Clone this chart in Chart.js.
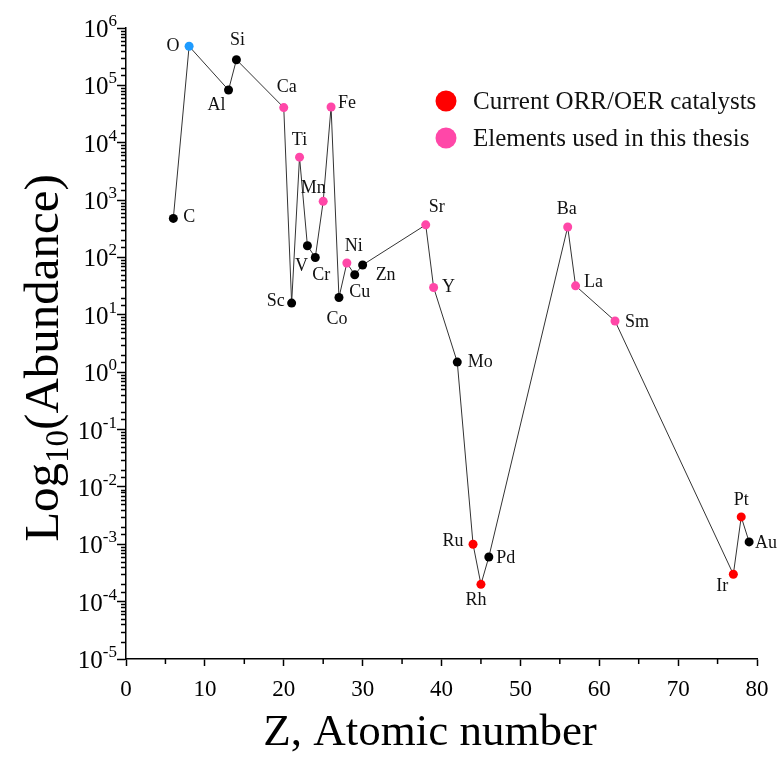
<!DOCTYPE html>
<html>
<head>
<meta charset="utf-8">
<script src="https://cdn.jsdelivr.net/npm/chart.js@4.4.1/dist/chart.umd.min.js"></script>
<style>
  html, body { margin: 0; padding: 0; background: #fff; }
  #wrap { width: 778px; height: 760px; position: relative; }
</style>
</head>
<body>
<div id="wrap"><canvas id="chart"></canvas></div>
<script>
"use strict";

// crustal abundance of selected elements
const symbols = ["C", "O", "Al", "Si", "Ca", "Sc", "Ti", "V", "Cr", "Mn", "Fe", "Co", "Ni", "Cu", "Zn",
  "Sr", "Y", "Mo", "Ru", "Rh", "Pd", "Ba", "La", "Sm", "Ir", "Pt", "Au"];
const atomicNumbers = [6, 8, 13, 14, 20, 21, 22, 23, 24, 25, 26, 27, 28, 29, 30,
  38, 39, 42, 44, 45, 46, 56, 57, 62, 77, 78, 79];
const abundance = [480, 4.8e5, 8.3e4, 2.8e5, 4.1e4, 16, 5.6e3, 160, 100, 950, 4.2e4, 20, 80, 50, 74,
  370, 30, 1.5, 1e-3, 2e-4, 6e-4, 340, 32, 7.8, 3e-4, 3e-3, 1.1e-3];
const group = ["other", "oxygen", "other", "other", "thesis", "other", "thesis", "other", "other", "thesis",
  "thesis", "other", "thesis", "other", "other", "thesis", "thesis", "other", "catalyst", "catalyst",
  "other", "thesis", "thesis", "thesis", "catalyst", "catalyst", "other"];
const legendLabels = ["Current ORR/OER catalysts", "Elements used in this thesis"];
const legendGroups = ["catalyst", "thesis"];
const xTicks = [0, 10, 20, 30, 40, 50, 60, 70, 80];
const yExponents = [6, 5, 4, 3, 2, 1, 0, -1, -2, -3, -4, -5];

const COLORS = { other: "#000000", oxygen: "#1e9bff", thesis: "#ff47a8", catalyst: "#ff0000" };
const SERIF = "'Liberation Serif', 'Times New Roman', serif";

// where each element's label sits relative to its dot (px)
const LABEL_OFFSET = {
  C: [16, -1], O: [-16, 0], Al: [-12, 15], Si: [1, -19], Ca: [3, -20], Sc: [-16, -2],
  Ti: [0, -17], V: [-6, 21], Cr: [6, 18], Mn: [-10, -13], Fe: [16, -4], Co: [-2, 22],
  Ni: [7, -17], Cu: [5, 18], Zn: [23, 10], Sr: [11, -18], Y: [15, 0], Mo: [23, 0],
  Ru: [-20, -3], Rh: [-5, 16], Pd: [17, 1], Ba: [-1, -18], La: [18, -4], Sm: [22, 1],
  Ir: [-11, 12], Pt: [0, -17], Au: [17, 1],
};

const isPow10 = (v) => Math.abs(Math.log10(v) - Math.round(Math.log10(v))) < 1e-9;

const decorations = {
  id: "decorations",
  afterDraw(chart) {
    const { ctx, chartArea: area, scales: { x, y } } = chart;
    ctx.save();
    ctx.strokeStyle = "#000";
    ctx.lineWidth = 1.5;

    // minor ticks
    for (const t of y.ticks) {
      if (isPow10(t.value)) continue;
      const py = Math.round(y.getPixelForValue(t.value)) + 0.5;
      ctx.beginPath();
      ctx.moveTo(area.left - 5, py);
      ctx.lineTo(area.left, py);
      ctx.stroke();
    }
    for (let v = 5; v < 80; v += 10) {
      const px = x.getPixelForValue(v);
      ctx.beginPath();
      ctx.moveTo(px, area.bottom);
      ctx.lineTo(px, area.bottom + 5);
      ctx.stroke();
    }

    // tick labels
    ctx.fillStyle = "#000";
    ctx.textBaseline = "alphabetic";
    ctx.textAlign = "center";
    ctx.font = `23px ${SERIF}`;
    for (const v of xTicks) ctx.fillText(String(v), x.getPixelForValue(v), area.bottom + 37);

    for (const e of yExponents) {
      const py = y.getPixelForValue(Math.pow(10, e));
      const sup = String(e);
      ctx.font = `17px ${SERIF}`;
      const supW = ctx.measureText(sup).width;
      const right = area.left - 9;
      ctx.textAlign = "right";
      ctx.fillText(sup, right, py - 2);
      ctx.font = `25px ${SERIF}`;
      ctx.fillText("10", right - supW, py + 9);
    }

    // axis titles
    ctx.textAlign = "center";
    ctx.font = `45px ${SERIF}`;
    ctx.fillText("Z, Atomic number", 430, 745);

    ctx.save();
    ctx.translate(58, 358);
    ctx.rotate(-Math.PI / 2);
    ctx.textAlign = "left";
    ctx.font = `49px ${SERIF}`;
    const wLog = ctx.measureText("Log").width;
    const wRest = ctx.measureText("(Abundance)").width;
    ctx.font = `33px ${SERIF}`;
    const wSub = ctx.measureText("10").width;
    let cx = -(wLog + wSub + wRest) / 2;
    ctx.font = `49px ${SERIF}`;
    ctx.fillText("Log", cx, 0);
    cx += wLog;
    ctx.font = `33px ${SERIF}`;
    ctx.fillText("10", cx, 10);
    cx += wSub;
    ctx.font = `49px ${SERIF}`;
    ctx.fillText("(Abundance)", cx, 0);
    ctx.restore();

    // element labels
    ctx.font = `18px ${SERIF}`;
    ctx.fillStyle = "#111";
    ctx.textAlign = "center";
    ctx.textBaseline = "middle";
    const meta = chart.getDatasetMeta(0);
    meta.data.forEach((pt, i) => {
      const [dx, dy] = LABEL_OFFSET[symbols[i]] || [12, 0];
      ctx.fillText(symbols[i], pt.x + dx, pt.y + dy);
    });

    // legend
    ctx.font = `25px ${SERIF}`;
    ctx.textAlign = "left";
    legendLabels.forEach((label, i) => {
      const ly = 101 + i * 37;
      ctx.fillStyle = COLORS[legendGroups[i]];
      ctx.beginPath();
      ctx.arc(446, ly, 10.5, 0, Math.PI * 2);
      ctx.fill();
      ctx.fillStyle = "#111";
      ctx.fillText(label, 473, ly + 1);
    });
    ctx.restore();
  },
};

new Chart(document.getElementById("chart"), {
  type: "line",
  data: {
    datasets: [{
      data: atomicNumbers.map((z, i) => ({ x: z, y: abundance[i] })),
      borderColor: "#333",
      borderWidth: 1,
      pointRadius: 4.5,
      pointHoverRadius: 4.5,
      pointBorderWidth: 0,
      pointBackgroundColor: group.map((g) => COLORS[g]),
      tension: 0,
    }],
  },
  options: {
    animation: false,
    responsive: true,
    maintainAspectRatio: false,
    layout: { padding: { left: 117, right: 21, top: 28, bottom: 94 } },
    plugins: { legend: { display: false }, tooltip: { enabled: false } },
    scales: {
      x: {
        type: "linear",
        min: 0,
        max: 80,
        ticks: { display: false, stepSize: 10 },
        grid: { drawOnChartArea: false, tickLength: 7, tickColor: "#000", tickWidth: 1.5 },
        border: { color: "#000", width: 1.5 },
      },
      y: {
        type: "logarithmic",
        min: 1e-5,
        max: 1e6,
        ticks: { display: false },
        grid: {
          drawOnChartArea: false,
          tickLength: 9,
          tickWidth: 1.5,
          tickColor: (c) => (c.tick && isPow10(c.tick.value) ? "#000" : "rgba(0,0,0,0)"),
        },
        border: { color: "#000", width: 1.5 },
      },
    },
  },
  plugins: [decorations],
});
</script>
</body>
</html>
